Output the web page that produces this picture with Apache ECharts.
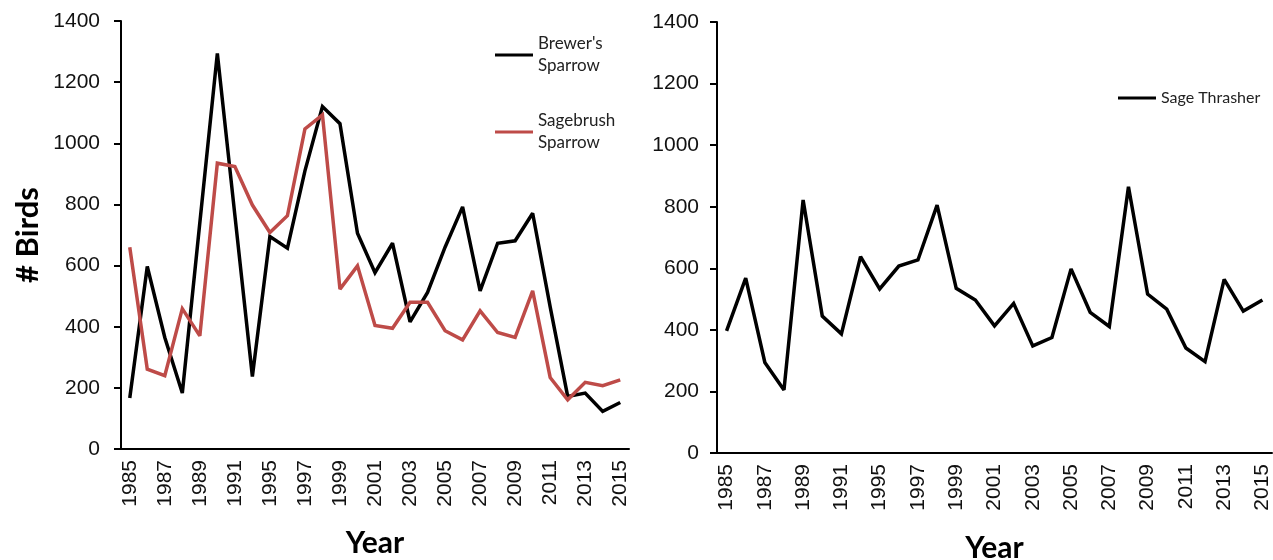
<!DOCTYPE html>
<html>
<head>
<meta charset="utf-8">
<title>Sagebrush songbird counts</title>
<script src="https://cdn.jsdelivr.net/npm/echarts@6/dist/echarts.min.js"></script>
<style>
  html, body { margin: 0; padding: 0; background: #fff; }
  #chart { width: 1273px; height: 560px; }
</style>
</head>
<body>
<div id="chart"></div>
<script>
// Survey years (1992 and 1994 were not surveyed)
const years = ['1985','1986','1987','1988','1989','1990','1991','1993',
  '1995','1996','1997','1998','1999','2000','2001','2002','2003','2004',
  '2005','2006','2007','2008','2009','2010','2011','2012','2013','2014','2015'];

// Birds counted per year
const brewersSparrow = [167, 597, 365, 183, 740, 1294, 765, 237, 695, 657, 910, 1120,
  1064, 706, 577, 673, 416, 512, 660, 792, 517, 673, 681, 771, 465, 172, 183, 123, 152];
const sagebrushSparrow = [660, 261, 240, 459, 370, 935, 924, 798, 708, 763, 1047, 1093,
  523, 599, 404, 395, 480, 480, 387, 357, 452, 381, 365, 517, 234, 161, 218, 207, 226];
const sageThrasher = [397, 568, 294, 205, 822, 445, 387, 638, 533, 607, 627, 805,
  535, 497, 413, 486, 348, 375, 598, 457, 411, 865, 516, 467, 341, 297, 564, 461, 497];

const yTicks = { min: 0, max: 1400, interval: 200 };

const RED = '#be4b48';
const BLACK = '#000';
const tickFont = 'Liberation Sans, Arial, sans-serif';
const titleFont = 'Lato, Calibri, sans-serif';

function xAxisFor(gridIndex, nameGap) {
  return {
    type: 'category',
    gridIndex: gridIndex,
    data: years,
    boundaryGap: true,
    name: 'Year',
    nameLocation: 'middle',
    nameGap: nameGap,
    nameTextStyle: { fontFamily: titleFont, fontWeight: 'bold', fontSize: 30, color: '#000' },
    axisLine: { lineStyle: { color: '#000', width: 2 } },
    axisTick: { interval: 0, length: 6, lineStyle: { color: '#000', width: 2 } },
    axisLabel: { interval: 1, rotate: 90, margin: 11, fontFamily: tickFont, fontSize: 21, color: '#111' },
    splitLine: { show: false }
  };
}

function yAxisFor(gridIndex, withName, margin) {
  return {
    type: 'value',
    gridIndex: gridIndex,
    min: yTicks.min, max: yTicks.max, interval: yTicks.interval,
    name: withName ? '# Birds' : '',
    nameLocation: 'middle',
    nameGap: 78,
    nameTextStyle: { fontFamily: titleFont, fontWeight: 'bold', fontSize: 31, color: '#000' },
    axisLine: { show: true, lineStyle: { color: '#000', width: 2 } },
    axisTick: { show: true, length: 7, lineStyle: { color: '#000', width: 2 } },
    axisLabel: { margin: margin, fontFamily: tickFont, fontSize: 21, color: '#111',
      formatter: (v) => String(v) },
    splitLine: { show: false }
  };
}

function lineSeries(name, data, color, axisIndex) {
  return {
    name: name,
    type: 'line',
    xAxisIndex: axisIndex,
    yAxisIndex: axisIndex,
    data: data,
    symbol: 'none',
    smooth: false,
    lineStyle: { color: color, width: 3.5, join: 'miter', miterLimit: 2.5 },
    itemStyle: { color: color },
    emphasis: { disabled: true },
    z: color === RED ? 3 : 2
  };
}

// Legend entries: line sample on the first text line, name wrapped onto two lines
const legendText = { fontFamily: titleFont, fontSize: 17, color: '#222', lineHeight: 22, padding: [22, 0, 0, 0] };
function legendFor(name, left, top, wrap, fontSize) {
  return {
    data: [name],
    left: left, top: top,
    padding: 0,
    icon: 'rect',
    itemWidth: 38, itemHeight: 3,
    itemGap: 0,
    selectedMode: false,
    formatter: wrap ? (n) => n.replace(/ /, '\n') : (n) => n,
    textStyle: wrap ? legendText : { fontFamily: titleFont, fontSize: fontSize, color: '#222' }
  };
}

const chart = echarts.init(document.getElementById('chart'));
chart.setOption({
  animation: false,
  backgroundColor: '#fff',
  grid: [
    { left: 121, top: 21, width: 508, height: 428, outerBoundsMode: 'none', containLabel: false },
    { left: 717, top: 22, width: 555, height: 431, outerBoundsMode: 'none', containLabel: false }
  ],
  xAxis: [xAxisFor(0, 79), xAxisFor(1, 80)],
  yAxis: [yAxisFor(0, true, 21), yAxisFor(1, false, 18)],
  legend: [
    legendFor("Brewer's Sparrow", 495, 22, true),
    legendFor('Sagebrush Sparrow', 495, 99, true),
    legendFor('Sage Thrasher', 1118, 90, false, 16)
  ],
  series: [
    lineSeries("Brewer's Sparrow", brewersSparrow, BLACK, 0),
    lineSeries('Sagebrush Sparrow', sagebrushSparrow, RED, 0),
    lineSeries('Sage Thrasher', sageThrasher, BLACK, 1)
  ]
});
</script>
</body>
</html>
